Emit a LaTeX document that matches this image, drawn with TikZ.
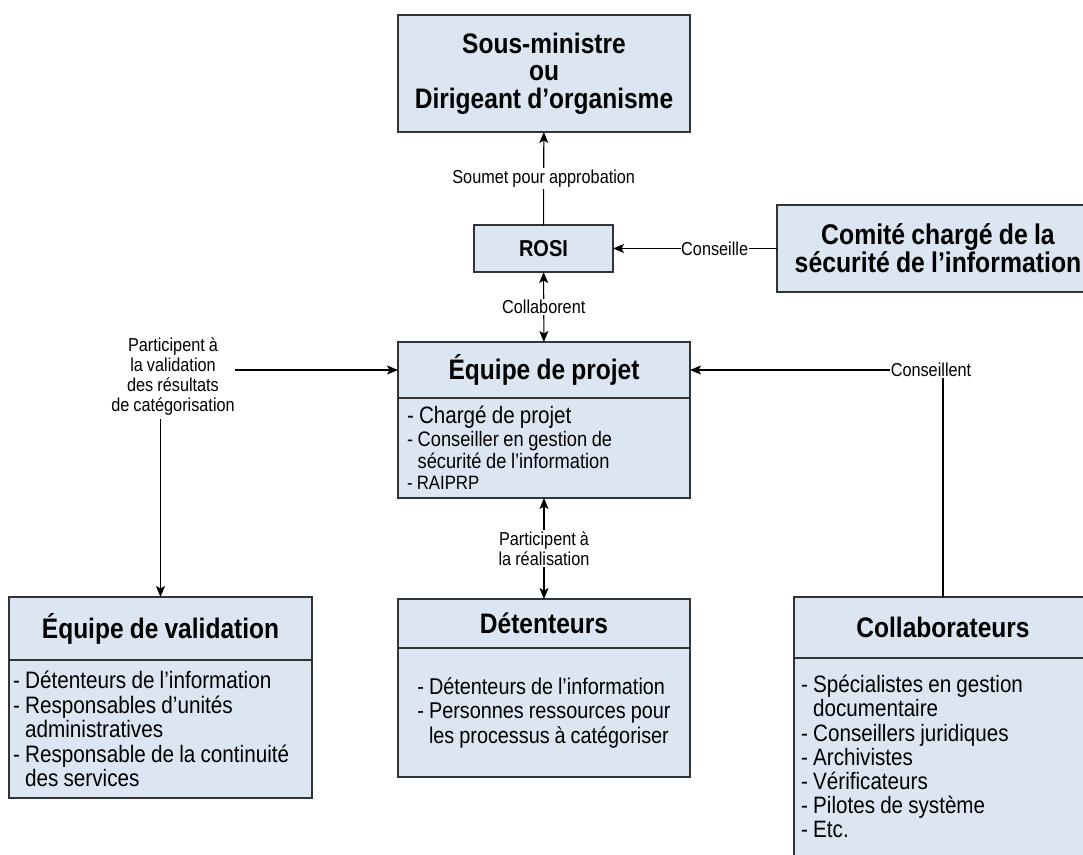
\documentclass[tikz,border=0pt]{standalone}
\usepackage{fontspec}
\setmainfont[FakeStretch=0.87,WordSpace={0.9,0.6,0.5}]{Liberation Sans}
\usetikzlibrary{arrows.meta}
\setlength{\parindent}{0pt}
\definecolor{boxfill}{HTML}{DCE6F2}
\definecolor{boxline}{HTML}{333333}
\begin{document}
\begin{tikzpicture}[x=1pt,y=-1pt,
  box/.style={draw=boxline, line width=1.2pt, fill=boxfill, inner sep=0pt, outer sep=0pt},
  title/.style={box, font=\bfseries\fontsize{28.2}{27.5}\selectfont, align=center},
  itembox/.style={box, font=\fontsize{23.7}{24.6}\selectfont, align=flush left},
  lbl/.style={fill=white, inner sep=1.5pt, font=\fontsize{18.7}{19.7}\selectfont, align=center},
  tip/.tip={Stealth[length=11pt,width=9pt,inset=2.5pt]},
  arr/.style={-tip, line width=1.1pt, draw=black},
  arrb/.style={tip-tip, line width=1.1pt, draw=black},
  divider/.style={line width=2.5pt, draw=boxline}
]
\useasboundingbox (0,0) rectangle (1083,854);
\clip (0,0) rectangle (1083,854);

% top box
\node[title, minimum width=292pt, minimum height=117pt] (top) at (544,73.5)
  {Sous-ministre\\ou\\Dirigeant d’organisme};

% ROSI
\node[title, font=\bfseries\fontsize{23}{24}\selectfont, minimum width=139pt, minimum height=47pt] (rosi) at (543.5,248.5) {ROSI};

% Comite
\node[title, font=\bfseries\fontsize{28.5}{25}\selectfont, minimum width=322pt, minimum height=87pt] (comite) at (938,248.5)
  {Comité chargé de la\\sécurité de l’information};

% Equipe de projet
\node[title, minimum width=292pt, minimum height=56pt] (eqph) at (544,370) {Équipe de projet};
\node[itembox, minimum width=292pt, minimum height=100pt, text width=274pt] (eqpb) at (544,448)
  {{\fontsize{23.7}{23}\selectfont - Chargé de projet\par}%
   {\fontsize{21}{22.5}\selectfont - Conseiller en gestion de\par\hphantom{- }sécurité de l’information\par}%
   {\fontsize{19.3}{21}\selectfont - RAIPRP\par}};
\draw[divider] (eqph.south west) -- (eqph.south east);

% Equipe de validation
\node[title, minimum width=303pt, minimum height=63pt] (valh) at (160.5,628.5) {Équipe de validation};
\node[itembox, font=\fontsize{23.8}{24.6}\selectfont, minimum width=303pt, minimum height=138pt, text width=295pt] (valb) at (160.5,729)
  {- Détenteurs de l’information\\- Responsables d’unités\\\hphantom{- }administratives\\- Responsable de la continuité\\\hphantom{- }des services};
\draw[divider] (valh.south west) -- (valh.south east);

% Detenteurs
\node[title, minimum width=292pt, minimum height=49pt] (deth) at (544,623.5) {Détenteurs};
\node[itembox, align=left, font=\fontsize{22.8}{24.5}\selectfont, minimum width=292pt, minimum height=129pt] (detb) at (544,712.5)
  {- Détenteurs de l’information\\- Personnes ressources pour\\\hphantom{- }les processus à catégoriser};
\draw[divider] (deth.south west) -- (deth.south east);

% Collaborateurs
\node[title, minimum width=298pt, minimum height=61pt] (colh) at (943,627.5) {Collaborateurs};
\node[box, minimum width=298pt, minimum height=222pt] (colb) at (943,769) {};
\node[font=\fontsize{23.7}{24.2}\selectfont, align=left, inner sep=0pt, anchor=north west] (colitems) at (801,675)
  {- Spécialistes en gestion\\\hphantom{- }documentaire\\- Conseillers juridiques\\- Archivistes\\- Vérificateurs\\- Pilotes de système\\- Etc.};
\draw[divider] (colh.south west) -- (colh.south east);

% labels
\node[lbl, fill=none, inner sep=0pt] (part) at (173,376.5)
  {Participent à\\la validation\\des résultats\\de catégorisation};
\node[lbl, fill=none, inner sep=0.5pt] (cons) at (931,370) {Conseillent};

% connectors
\draw[arr] (rosi) -- node[lbl] {Soumet pour approbation} (top);
\draw[arr] (comite) -- node[lbl, inner sep=0.5pt, pos=0.38] {Conseille} (rosi);
\draw[arrb] (rosi) -- node[lbl] {Collaborent} (eqph);
\draw[arrb] (eqpb) -- node[lbl] {Participent à\\la réalisation} (deth);
\draw[arr] (part.east |- eqph.west) -- (eqph.west);
\draw[arr, shorten <=4pt] (part.south -| valh.north) -- (valh.north);
\draw[line width=1.1pt] (colh.north) -- (colh.north |- cons.south);
\draw[arr] (cons.west) -- (eqph.east);
\end{tikzpicture}
\end{document}
